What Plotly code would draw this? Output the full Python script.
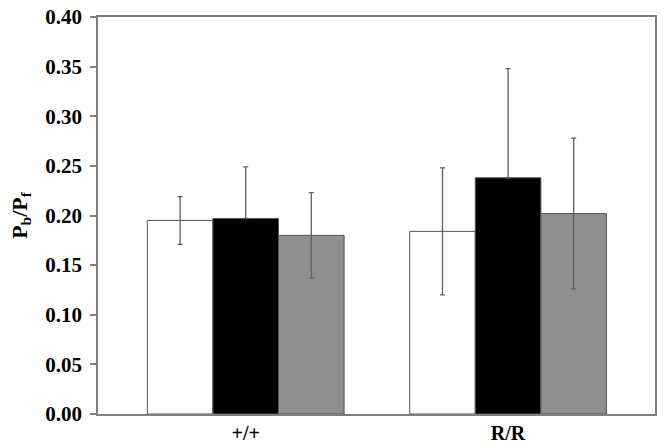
import plotly.graph_objects as go

categories = ["+/+", "R/R"]
white_vals = [0.195, 0.184]
white_err = [0.024, 0.064]
black_vals = [0.197, 0.238]
black_err = [0.052, 0.110]
black_err_minus = [0.0, 0.0]   # lower whisker not shown in the reference
gray_vals = [0.180, 0.202]
gray_err = [0.043, 0.076]
y_ticks = [0.00, 0.05, 0.10, 0.15, 0.20, 0.25, 0.30, 0.35, 0.40]

xpos = list(range(len(categories)))
font = "Liberation Serif, Times New Roman, serif"
line_col = "#7f7f7f"
err_col = "#606060"

fig = go.Figure()
for vals, errs, errs_minus, fill in [(white_vals, white_err, white_err, "#ffffff"),
                                     (black_vals, black_err, black_err_minus, "#000000"),
                                     (gray_vals, gray_err, gray_err, "#8f8f8f")]:
    fig.add_trace(go.Bar(
        x=xpos, y=vals,
        marker=dict(color=fill, line=dict(color="#555555", width=1)),
        error_y=dict(type="data", array=errs, arrayminus=errs_minus, symmetric=False,
                     visible=True, color=err_col, thickness=1.3, width=2.5),
        showlegend=False,
    ))

fig.update_layout(
    barmode="group",
    bargap=0.25,
    bargroupgap=0,
    width=664, height=446,
    margin=dict(l=98, r=9, t=17, b=32, autoexpand=False),
    plot_bgcolor="white", paper_bgcolor="white",
    font=dict(family=font, size=21, color="black"),
)
fig.update_xaxes(
    range=[-0.563, 1.560],
    tickvals=xpos, ticktext=[f"<b>{c}</b>" for c in categories],
    showline=True, linecolor=line_col, linewidth=1.5, mirror=True,
    ticks="", showgrid=False, zeroline=False,
    tickfont=dict(family=font, size=20, color="black"),
)
fig.update_yaxes(
    range=[0, 0.40],
    tickvals=y_ticks, ticktext=[f"<b>{v:.2f}</b>" for v in y_ticks],
    showline=True, linecolor=line_col, linewidth=1.5, mirror=True,
    ticks="outside", ticklen=6, tickcolor=line_col, tickwidth=1.5,
    ticklabelstandoff=4,
    showgrid=False, zeroline=False,
    tickfont=dict(family=font, size=21, color="black"),
    title=dict(text="<b>P<sub>b</sub>/P<sub>f</sub></b>",
               font=dict(family=font, size=22, color="black"), standoff=12),
)
fig.write_html("out.html", config={"displayModeBar": False},
               post_script="document.body.style.margin='0';document.body.style.overflow='hidden';")
